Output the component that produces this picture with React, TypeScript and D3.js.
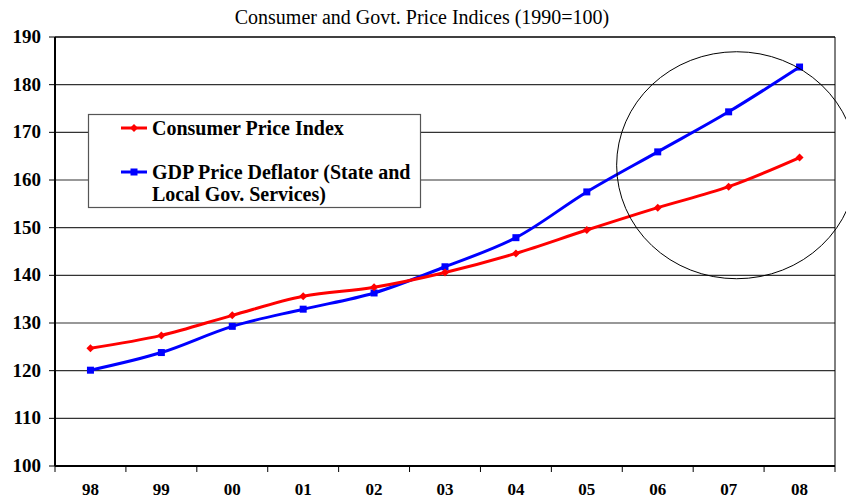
import React from "react";
import * as d3 from "d3";

const years = ["98", "99", "00", "01", "02", "03", "04", "05", "06", "07", "08"];
const cpi = [124.7, 127.4, 131.6, 135.6, 137.5, 140.6, 144.6, 149.5, 154.2, 158.6, 164.7];
const gdpDeflator = [120.1, 123.8, 129.3, 132.9, 136.3, 141.8, 147.9, 157.5, 165.9, 174.3, 183.7];
const yTicks = [100, 110, 120, 130, 140, 150, 160, 170, 180, 190];
const title = "Consumer and Govt. Price Indices (1990=100)";
const legendCpi = "Consumer Price Index";
const legendGdp = ["GDP Price Deflator (State and", "Local Gov. Services)"];

const W = 846;
const H = 499;
const left = 55;
const right = 835;
const top = 37;
const bottom = 466;
const FONT = "'Liberation Serif', 'Times New Roman', 'DejaVu Serif', serif";

export default function App() {
  const x = d3.scaleBand<string>().domain(years).range([left, right]);
  const y = d3.scaleLinear().domain([100, 190]).range([bottom, top]);
  const cx = (d: string) => (x(d) as number) + x.bandwidth() / 2;

  const line = d3
    .line<number>()
    .x((_, i) => cx(years[i]))
    .y((v) => y(v))
    .curve(d3.curveCatmullRom.alpha(0.5));

  const bandEdges = years.map((d) => x(d) as number).concat([right]);

  // annotation circle around last years
  const circCx = cx("07") + 8;
  const circCy = y(163.1);
  const circRx = 120;
  const circRy = 113.5;

  return (
    <svg
      width={W}
      height={H}
      style={{ position: "absolute", left: 0, top: 0, background: "#fff", fontFamily: FONT }}
    >
      <rect x={0} y={0} width={W} height={H} fill="#fff" />
      <text x={422} y={24} textAnchor="middle" fontSize={20} fill="#000">
        {title}
      </text>

      {/* gridlines */}
      {yTicks.slice(1, -1).map((t) => (
        <line key={t} x1={left} x2={right} y1={y(t)} y2={y(t)} stroke="#333" strokeWidth={1.2} />
      ))}
      {/* plot border */}
      <line x1={left} x2={right} y1={top} y2={top} stroke="#000" strokeWidth={1.5} />
      <line x1={right} x2={right} y1={top} y2={bottom} stroke="#000" strokeWidth={1} />
      <line x1={left} x2={right} y1={bottom} y2={bottom} stroke="#000" strokeWidth={2} />
      <line x1={left} x2={left} y1={top} y2={bottom} stroke="#000" strokeWidth={2} />

      {/* y ticks */}
      {yTicks.map((t) => (
        <g key={t}>
          <line x1={left - 6} x2={left} y1={y(t)} y2={y(t)} stroke="#000" strokeWidth={1} />
          <text
            x={41}
            y={y(t) + 6}
            textAnchor="end"
            fontSize={19}
            fontWeight="bold"
            fill="#000"
          >
            {t}
          </text>
        </g>
      ))}

      {/* x ticks */}
      {bandEdges.map((e, i) => (
        <line key={i} x1={e} x2={e} y1={bottom} y2={bottom + 6} stroke="#000" strokeWidth={1} />
      ))}
      {years.map((d) => (
        <text
          key={d}
          x={cx(d)}
          y={495}
          textAnchor="middle"
          fontSize={17}
          fontWeight="bold"
          fill="#000"
        >
          {d}
        </text>
      ))}

      {/* lines */}
      <path d={line(gdpDeflator) as string} fill="none" stroke="#0000ff" strokeWidth={3} />
      <path d={line(cpi) as string} fill="none" stroke="#ff0000" strokeWidth={3} />
      {gdpDeflator.map((v, i) => (
        <rect key={i} x={cx(years[i]) - 3.5} y={y(v) - 3.5} width={7} height={7} fill="#0000ff" />
      ))}
      {cpi.map((v, i) => (
        <path
          key={i}
          d={`M${cx(years[i])},${y(v) - 4}L${cx(years[i]) + 4},${y(v)}L${cx(years[i])},${y(v) + 4}L${cx(years[i]) - 4},${y(v)}Z`}
          fill="#ff0000"
        />
      ))}

      {/* annotation circle */}
      <ellipse cx={circCx} cy={circCy} rx={circRx} ry={circRy} fill="none" stroke="#000" strokeWidth={1} />

      {/* legend */}
      <rect x={88.5} y={114.5} width={332} height={93} fill="#fff" stroke="#555" strokeWidth={1.2} />
      <line x1={121} x2={147} y1={128} y2={128} stroke="#ff0000" strokeWidth={3} />
      <path d="M134,124L138,128L134,132L130,128Z" fill="#ff0000" />
      <text x={152} y={135} fontSize={20} fontWeight="bold" fill="#000">
        {legendCpi}
      </text>
      <line x1={121} x2={147} y1={172} y2={172} stroke="#0000ff" strokeWidth={3} />
      <rect x={130.5} y={168.5} width={7} height={7} fill="#0000ff" />
      <text x={152} y={179} fontSize={20} fontWeight="bold" fill="#000">
        {legendGdp[0]}
      </text>
      <text x={152} y={201} fontSize={20} fontWeight="bold" fill="#000">
        {legendGdp[1]}
      </text>
    </svg>
  );
}
